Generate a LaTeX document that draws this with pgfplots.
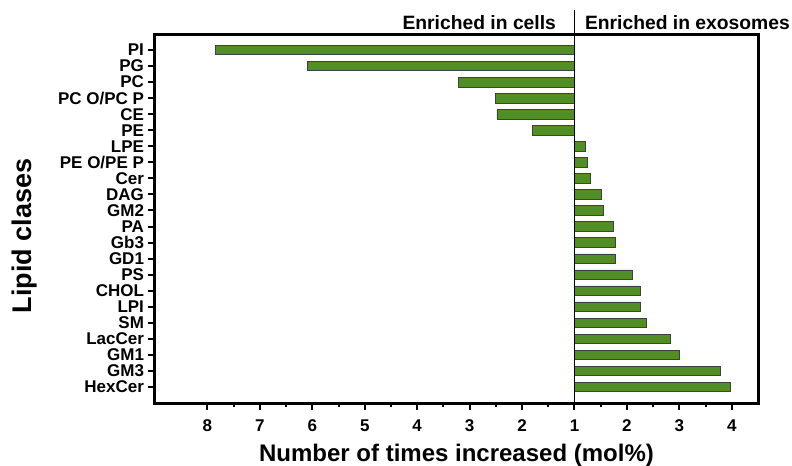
\documentclass[border=0pt]{standalone}
\usepackage{fontspec}
\setmainfont{Liberation Sans}
\usepackage{pgfplots}
\usepackage{pgfplotstable}
\pgfplotsset{compat=1.18}

\definecolor{bargreen}{RGB}{82,143,34}

% fold change; negative = enriched in cells
\pgfplotstableread{
idx fold
0  -7.85
1  -6.09
2  -3.21
3  -2.50
4  -2.48
5  -1.81
6   1.20
7   1.24
8   1.31
9   1.51
10  1.55
11  1.75
12  1.78
13  1.78
14  2.10
15  2.25
16  2.26
17  2.38
18  2.83
19  3.00
20  3.78
21  3.98
}\lipids

\begin{document}
\begin{tikzpicture}
\begin{axis}[
    name=ax,
    scale only axis,
    width=603pt, height=369pt,
    xmin=-8, xmax=3.5,
    ymin=-1, ymax=22,
    y dir=reverse,
    xbar, bar width=9.5pt,
    xtick={-7,...,3},
    xticklabels={8,7,6,5,4,3,2,1,2,3,4},
    minor x tick num=1,
    ytick={0,...,21},
    yticklabels={PI,PG,PC,PC O/PC P,CE,PE,LPE,PE O/PE P,Cer,DAG,GM2,PA,Gb3,GD1,PS,CHOL,LPI,SM,LacCer,GM1,GM3,HexCer},
    xtick pos=bottom, ytick pos=left,
    tick align=outside,
    major tick length=6.5pt, minor tick length=4pt,
    separate axis lines,
    axis line style={line width=3pt, line cap=rect},
    every tick/.style={black, line width=2pt},
    /pgf/number format/assume math mode=true,
    xticklabel style={font=\fontsize{17}{17}\selectfont\bfseries, yshift=-7pt},
    yticklabel style={font=\fontsize{17}{17}\selectfont\bfseries, xshift=-1pt},
    clip=false,
]
\addplot[xbar, fill=bargreen, draw=black!75, line width=0.7pt]
    table[x expr={\thisrow{fold}<0 ? \thisrow{fold}+1 : \thisrow{fold}-1}, y=idx] {\lipids};
\draw[line width=0.9pt] (axis cs:0,22) -- ([yshift=24pt]axis cs:0,-1);
\node[anchor=base east, font=\fontsize{19.3}{19.3}\selectfont\bfseries]
    at ([xshift=-15pt, yshift=5pt]axis cs:0,-1) {Enriched in cells};
\node[anchor=base west, font=\fontsize{19.3}{19.3}\selectfont\bfseries]
    at ([xshift=7pt, yshift=5pt]axis cs:0,-1) {Enriched in exosomes};
\end{axis}
\node[anchor=base, font=\fontsize{24}{24}\selectfont\bfseries]
    at ([yshift=-58.7pt]ax.south) {Number of times increased (mol\%)};
\node[rotate=90, anchor=base, font=\fontsize{27}{27}\selectfont\bfseries]
    at ([xshift=-123pt, yshift=-17.7pt]ax.west) {Lipid clases};
\pgfresetboundingbox
\path ([xshift=-155pt, yshift=-63pt]ax.south west) rectangle ([xshift=34pt, yshift=34pt]ax.north east);
\end{tikzpicture}
\end{document}
